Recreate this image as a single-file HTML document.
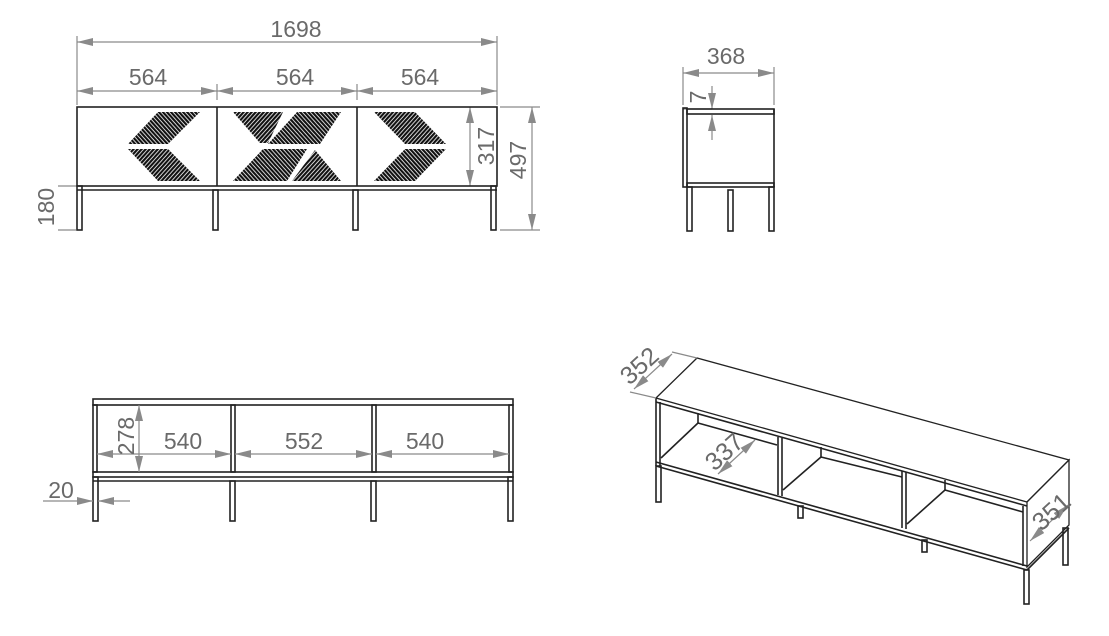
<!DOCTYPE html>
<html><head><meta charset="utf-8"><style>
html,body{margin:0;padding:0;background:#fff}
svg{display:block}
text{font-family:"Liberation Sans",sans-serif;font-size:23px;fill:#6a6a6a}
.d{stroke:#8a8a8a;stroke-width:1.2;fill:none}
.o{stroke:#222;stroke-width:1.6;fill:none}
.f{stroke:#222;stroke-width:1.3;fill:#fff}
</style></head><body>
<svg width="1109" height="636" viewBox="0 0 1109 636" xmlns="http://www.w3.org/2000/svg">
<defs>
<marker id="a" viewBox="0 0 16 8" refX="16" refY="4" markerWidth="16" markerHeight="8" markerUnits="userSpaceOnUse" orient="auto-start-reverse"><path d="M0,0 L16,4 L0,8 z" fill="#8a8a8a"/></marker>
<pattern id="p1" width="3" height="10" patternUnits="userSpaceOnUse" patternTransform="rotate(-42)"><rect width="2.2" height="10" fill="#111"/></pattern>
<pattern id="p2" width="3" height="10" patternUnits="userSpaceOnUse" patternTransform="rotate(42)"><rect width="2.2" height="10" fill="#111"/></pattern>
</defs>

<!-- FRONT VIEW -->
<g class="d">
<line x1="77" y1="36" x2="77" y2="105"/><line x1="497" y1="36" x2="497" y2="105"/>
<line x1="217" y1="84" x2="217" y2="100"/><line x1="357" y1="84" x2="357" y2="100"/>
<line x1="77" y1="42" x2="497" y2="42" marker-start="url(#a)" marker-end="url(#a)"/>
<line x1="77" y1="91" x2="217" y2="91" marker-start="url(#a)" marker-end="url(#a)"/>
<line x1="217" y1="91" x2="357" y2="91" marker-start="url(#a)" marker-end="url(#a)"/>
<line x1="357" y1="91" x2="497" y2="91" marker-start="url(#a)" marker-end="url(#a)"/>
<line x1="470" y1="107" x2="470" y2="186" marker-start="url(#a)" marker-end="url(#a)"/>
<line x1="500" y1="107" x2="540" y2="107"/><line x1="500" y1="230" x2="540" y2="230"/>
<line x1="532" y1="107" x2="532" y2="230" marker-start="url(#a)" marker-end="url(#a)"/>
<line x1="58" y1="186" x2="76" y2="186"/><line x1="58" y1="230" x2="76" y2="230"/>
</g>
<text x="296" y="37" text-anchor="middle">1698</text>
<text x="148" y="85" text-anchor="middle">564</text>
<text x="295" y="85" text-anchor="middle">564</text>
<text x="420" y="85" text-anchor="middle">564</text>
<text transform="translate(494,146) rotate(-90)" text-anchor="middle">317</text>
<text transform="translate(526,160) rotate(-90)" text-anchor="middle">497</text>
<text transform="translate(54,207) rotate(-90)" text-anchor="middle">180</text>
<rect class="o" x="77" y="107" width="420" height="79"/>
<line class="o" x1="217" y1="107" x2="217" y2="186"/><line class="o" x1="357" y1="107" x2="357" y2="186"/>
<line class="o" x1="77" y1="190" x2="497" y2="190"/>
<rect class="o" x="77" y="186" width="5" height="44"/><rect class="o" x="213" y="190" width="5" height="40"/>
<rect class="o" x="353" y="190" width="5" height="40"/><rect class="o" x="491" y="186" width="5" height="44"/>
<polygon fill="url(#p1)" points="158,112 200,112 168,144 128,144"/>
<polygon fill="url(#p2)" points="128,149 168,149 200,181 158,181"/>
<polygon fill="url(#p2)" points="233,112 283,112 268,143 260,143"/>
<polygon fill="url(#p1)" points="297,112 341,112 320,144 268,144"/>
<polygon fill="url(#p1)" points="263,149 307,149 287,181 233,181"/>
<polygon fill="url(#p2)" points="315,150 341,181 292,181"/>
<polygon fill="url(#p2)" points="374,112 415,112 446,144 405,144"/>
<polygon fill="url(#p1)" points="405,149 446,149 415,181 374,181"/>

<!-- SIDE VIEW -->
<g class="d">
<line x1="683" y1="67" x2="683" y2="105"/><line x1="774" y1="67" x2="774" y2="105"/>
<line x1="683" y1="73" x2="774" y2="73" marker-start="url(#a)" marker-end="url(#a)"/>
<line x1="712" y1="86" x2="712" y2="109" marker-end="url(#a)"/>
<line x1="712" y1="140" x2="712" y2="115" marker-end="url(#a)"/>
<line x1="683" y1="109" x2="712" y2="109"/>
</g>
<text x="726" y="64" text-anchor="middle">368</text>
<text transform="translate(706,97) rotate(-90)" text-anchor="middle">7</text>
<rect class="o" x="683" y="108" width="4" height="79"/>
<rect class="o" x="687" y="109" width="87" height="5"/>
<line class="o" x1="774" y1="109" x2="774" y2="187"/>
<rect class="o" x="687" y="183" width="87" height="4"/>
<rect class="o" x="687" y="187" width="5" height="44"/><rect class="o" x="728" y="190" width="5" height="41"/>
<rect class="o" x="769" y="187" width="5" height="44"/>

<!-- BACK VIEW -->
<rect class="o" x="93" y="399" width="420" height="6"/>
<rect class="o" x="93" y="405" width="4" height="67"/><rect class="o" x="509" y="405" width="4" height="67"/>
<rect class="o" x="231" y="405" width="4" height="67"/><rect class="o" x="372" y="405" width="4" height="67"/>
<rect class="o" x="93" y="472" width="420" height="5"/>
<line class="o" x1="93" y1="481" x2="513" y2="481"/>
<rect class="o" x="93" y="477" width="5" height="44"/><rect class="o" x="230" y="481" width="5" height="40"/>
<rect class="o" x="371" y="481" width="5" height="40"/><rect class="o" x="508" y="477" width="5" height="44"/>
<g class="d">
<line x1="139" y1="405" x2="139" y2="472" marker-start="url(#a)" marker-end="url(#a)"/>
<line x1="97" y1="454" x2="231" y2="454" marker-start="url(#a)" marker-end="url(#a)"/>
<line x1="235" y1="454" x2="372" y2="454" marker-start="url(#a)" marker-end="url(#a)"/>
<line x1="376" y1="454" x2="509" y2="454" marker-start="url(#a)" marker-end="url(#a)"/>
<line x1="43" y1="501" x2="93" y2="501" marker-end="url(#a)"/>
<line x1="130" y1="501" x2="98" y2="501" marker-end="url(#a)"/>
</g>
<text x="183" y="449" text-anchor="middle">540</text>
<text x="304" y="449" text-anchor="middle">552</text>
<text x="425" y="449" text-anchor="middle">540</text>
<text transform="translate(134,436) rotate(-90)" text-anchor="middle">278</text>
<text x="61" y="498" text-anchor="middle">20</text>

<!-- ISOMETRIC -->
<g class="o">
<polygon class="f" points="656,398 697,358 1069,460 1027,502"/>
<line x1="656" y1="402" x2="1027" y2="506"/>
<line x1="656" y1="398" x2="656" y2="466"/><line x1="660" y1="402" x2="660" y2="466"/>
<polygon class="f" points="1027,502 1069,460 1069,525 1027,567"/>
<line x1="1023" y1="506" x2="1023" y2="566"/>
<line x1="656" y1="462" x2="1027" y2="566"/>
<line x1="656" y1="466" x2="1027" y2="570"/>
<line x1="1027" y1="570" x2="1069" y2="528"/>
<rect x="656" y="466" width="5" height="36"/>
<rect x="1024" y="570" width="5" height="34"/>
<rect x="1063" y="528" width="5" height="37"/>
<rect x="798" y="506" width="5" height="12"/><rect x="922" y="540" width="5" height="12"/>
<line x1="778" y1="437" x2="778" y2="495"/><line x1="782" y1="438" x2="782" y2="496"/>
<line x1="902" y1="471" x2="902" y2="528"/><line x1="906" y1="472" x2="906" y2="529"/>
<line x1="698" y1="413" x2="698" y2="423"/>
<line x1="661" y1="458" x2="698" y2="423"/><line x1="698" y1="423" x2="777" y2="445"/>
<line x1="821" y1="447" x2="821" y2="457"/>
<line x1="783" y1="490" x2="821" y2="457"/><line x1="821" y1="457" x2="902" y2="477"/>
<line x1="945" y1="480" x2="945" y2="490"/>
<line x1="907" y1="524" x2="945" y2="490"/><line x1="945" y1="490" x2="1023" y2="512"/>
</g>
<g class="d">
<line x1="630" y1="392" x2="656" y2="398"/><line x1="672" y1="352" x2="697" y2="358"/>
<line x1="634" y1="389" x2="672" y2="354" marker-start="url(#a)" marker-end="url(#a)"/>
<line x1="718" y1="474" x2="755" y2="440" marker-start="url(#a)" marker-end="url(#a)"/>
<line x1="1030" y1="541" x2="1068" y2="505" marker-start="url(#a)" marker-end="url(#a)"/>
</g>
<text transform="translate(645,372) rotate(-42)" text-anchor="middle" style="font-size:25px">352</text>
<text transform="translate(730,458) rotate(-42)" text-anchor="middle" style="font-size:25px">337</text>
<text transform="translate(1057,518) rotate(-42)" text-anchor="middle" style="font-size:25px">351</text>
</svg>
</body></html>
